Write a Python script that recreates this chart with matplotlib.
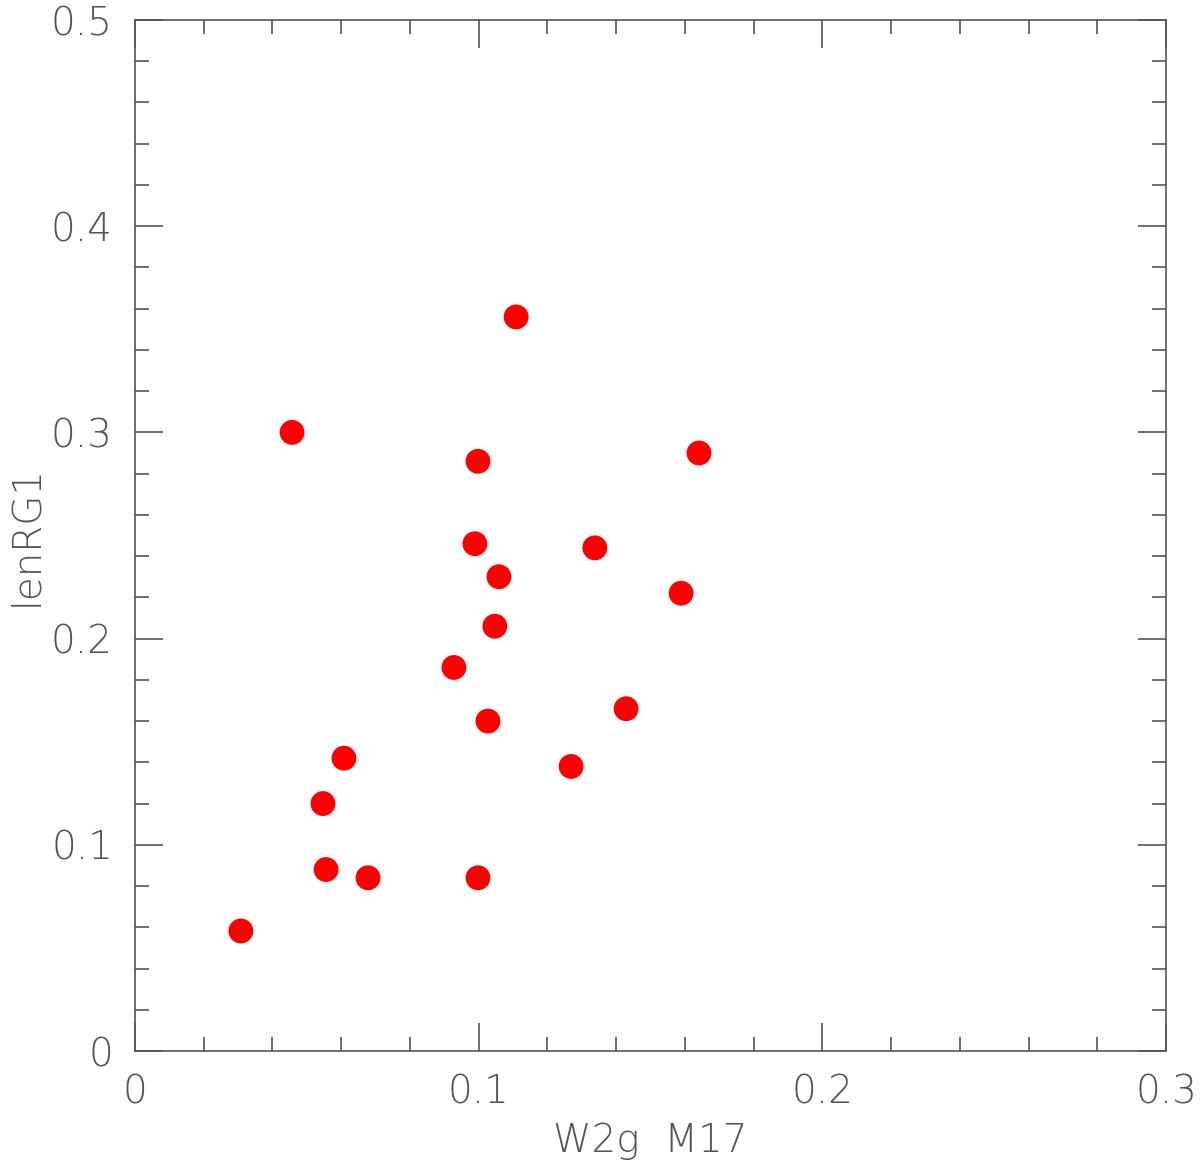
import matplotlib
matplotlib.use("Agg")
import matplotlib.pyplot as plt
from matplotlib.ticker import MultipleLocator, FixedFormatter, FixedLocator

x_vals = [0.0308, 0.0457, 0.1109, 0.0998, 0.1641, 0.0989, 0.1338, 0.1059, 0.1589,
          0.1047, 0.0928, 0.1429, 0.1027, 0.1269, 0.0608, 0.0547, 0.0556, 0.0678, 0.0998]
y_vals = [0.0582, 0.300, 0.356, 0.286, 0.290, 0.246, 0.244, 0.230, 0.222,
          0.206, 0.186, 0.166, 0.160, 0.138, 0.142, 0.120, 0.088, 0.084, 0.084]

xticks = [0, 0.1, 0.2, 0.3]
xticklabels = ["0", "0.1", "0.2", "0.3"]
yticks = [0, 0.1, 0.2, 0.3, 0.4, 0.5]
yticklabels = ["0", "0.1", "0.2", "0.3", "0.4", "0.5"]

gray = "#555555"
fig = plt.figure(figsize=(12, 11.63), dpi=100)
ax = fig.add_axes([0.1125, 0.0963, 0.8592, 0.8865])
ax.scatter(x_vals, y_vals, s=320, color="red", edgecolors="none", zorder=3)
ax.set_xlim(0, 0.3)
ax.set_ylim(0, 0.5)
ax.xaxis.set_major_locator(FixedLocator(xticks))
ax.xaxis.set_major_formatter(FixedFormatter(xticklabels))
ax.yaxis.set_major_locator(FixedLocator(yticks))
ax.yaxis.set_major_formatter(FixedFormatter(yticklabels))
ax.xaxis.set_minor_locator(MultipleLocator(0.02))
ax.yaxis.set_minor_locator(MultipleLocator(0.02))
ax.tick_params(which="both", direction="in", top=True, right=True, color=gray, width=1.2,
               labelcolor=gray, labelsize=28)
ax.tick_params(which="major", length=20, pad=16)
ax.tick_params(which="minor", length=10)
for sp in ax.spines.values():
    sp.set_color(gray)
    sp.set_linewidth(1.2)
for lab in ax.get_xticklabels() + ax.get_yticklabels():
    lab.set_fontweight("light")
ax.set_xlabel("W2g  M17", fontsize=28, color=gray, fontweight="light", labelpad=8)
ax.set_ylabel("lenRG1", fontsize=28, color=gray, fontweight="light", labelpad=4)
fig.savefig("out.png", dpi=100)
